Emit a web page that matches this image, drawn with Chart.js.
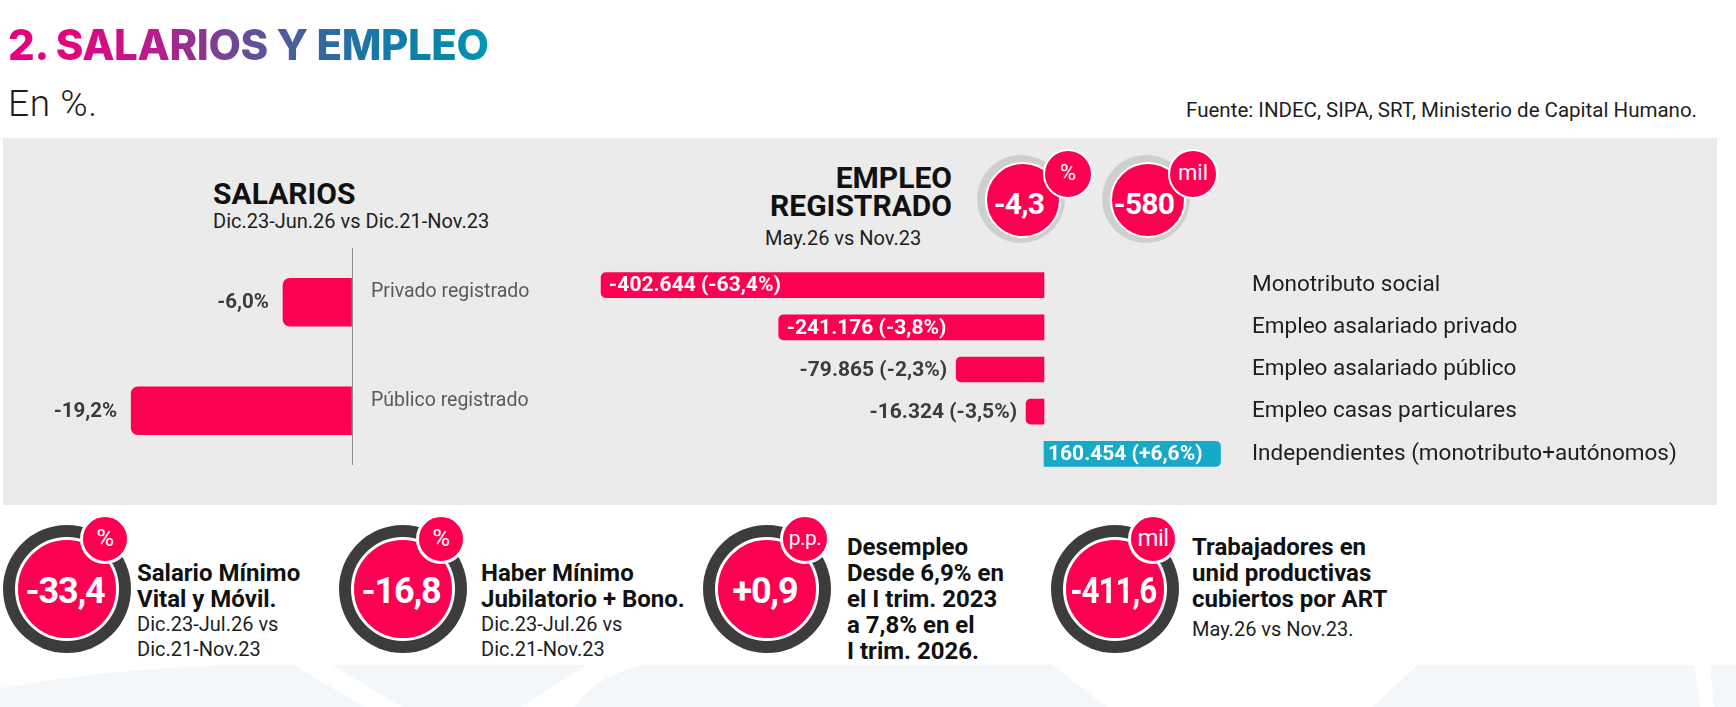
<!DOCTYPE html>
<html lang="es">
<head>
<meta charset="utf-8">
<title>2. Salarios y empleo</title>
<script src="https://cdn.jsdelivr.net/npm/chart.js@4.4.1/dist/chart.umd.min.js"></script>
<style>
  html, body { margin: 0; padding: 0; background: #fff; }
  body { position: relative; width: 1736px; height: 707px; overflow: hidden; font-family: Roboto, "Noto Sans", sans-serif; color: #1c1c1c; }
  .abs { position: absolute; }
  #titulo { left: 8px; top: 24px; font: 800 42px/1 Inter, Roboto, sans-serif; letter-spacing: -0.4px; white-space: nowrap;
    background: linear-gradient(90deg, #e8007e 0%, #e0067f 14%, #c2178a 28%, #8e358e 40%, #6a4b95 48%, #4d5e9c 58%, #32699f 66%, #1a78a6 76%, #0a82a8 88%, #0096b5 100%);
    -webkit-background-clip: text; background-clip: text; color: transparent; }
  #unidad { left: 8px; top: 85px; font: 300 37px/1 Roboto, sans-serif; letter-spacing: 0.6px; color: #1e1e1e; }
  #fuente { right: 39px; top: 100px; font: 400 20.5px/1 Roboto, sans-serif; color: #1e1e1e; white-space: nowrap; }
  #panel { left: 3px; top: 138px; width: 1714px; height: 367px; background: #ebebeb; }
  .tit-graf { font: 700 30px/28px Roboto, sans-serif; color: #111; white-space: nowrap; }
  .sub-graf { font: 400 20px/1 Roboto, sans-serif; color: #1e1e1e; white-space: nowrap; }

  /* badges del empleo registrado */
  .total { width: 88px; height: 88px; border-radius: 50%; background: #cfcfcf; }
  .total .disco { position: absolute; left: 8px; top: 7px; width: 72px; height: 72px; border-radius: 50%; background: #fe0052; border: 2px solid #fff;
    color: #fff; font: 700 30px/72px Roboto, sans-serif; text-align: center; letter-spacing: -0.8px; }
  .total .disco span { position: relative; left: -4px; top: 4px; }
  .total .chico { position: absolute; left: 66px; top: -6px; width: 46px; height: 46px; border-radius: 50%; background: #fe0052; border: 2px solid #fff;
    color: #fff; font: 400 22px/44px Roboto, sans-serif; text-align: center; }

  /* indicadores inferiores */
  .indic { width: 128px; height: 128px; border-radius: 50%; background: #3c3c3c; }
  .indic .disco { position: absolute; left: 12px; top: 12px; width: 98px; height: 98px; border-radius: 50%; background: #fe0052; border: 3px solid #fff;
    color: #fff; font: 700 36px/98px Roboto, sans-serif; text-align: center; letter-spacing: -1.2px; }
  .indic .disco span { display: inline-block; position: relative; left: -2px; top: 2px; transform-origin: 50% 50%; }
  .indic .chico { position: absolute; left: 77px; top: -11px; width: 44px; height: 44px; border-radius: 50%; background: #fe0052; border: 3px solid #fff;
    color: #fff; font: 400 24px/42px Roboto, sans-serif; text-align: center; letter-spacing: -0.5px; }
  .indic .chico.pp { font-size: 21px; }
  .texto-ind { white-space: nowrap; }
  .texto-ind b { display: block; font: 700 24px/26px Roboto, sans-serif; color: #111; }
  .texto-ind i { display: block; font: 400 20px/25px Roboto, sans-serif; font-style: normal; color: #1e1e1e; }
</style>
</head>
<body>

<svg class="abs" style="left:0;top:0" width="1736" height="707">
  <g fill="#f3f7fa">
    <path d="M0,707 L0,688 Q140,663 293,665 L365,707 Z"/>
    <path d="M332,665 L587,665 L520,707 L402,707 Z"/>
    <path d="M640,665 L1052,665 L1107,707 L575,707 Q590,680 640,665 Z"/>
    <path d="M1417,665 L1694,665 L1700,707 L1373,707 Z"/>
    <path d="M1710,665 L1736,665 L1736,707 L1714,707 Z"/>
  </g>
</svg>

<div id="titulo" class="abs">2. SALARIOS Y EMPLEO</div>
<div id="unidad" class="abs">En %.</div>
<div id="fuente" class="abs">Fuente: INDEC, SIPA, SRT, Ministerio de Capital Humano.</div>

<div id="panel" class="abs"></div>

<div class="abs tit-graf" style="left:213px;top:180px">SALARIOS</div>
<div class="abs sub-graf" style="left:213px;top:211px">Dic.23-Jun.26 vs Dic.21-Nov.23</div>

<div class="abs tit-graf" style="right:784px;top:164px;text-align:right">EMPLEO<br>REGISTRADO</div>
<div class="abs sub-graf" style="left:765px;top:228px">May.26 vs Nov.23</div>

<div id="totales"></div>

<canvas id="grafSalarios" class="abs" width="520" height="217" style="left:30px;top:248px;width:520px;height:217px"></canvas>
<canvas id="grafEmpleo" class="abs" width="1170" height="211" style="left:540px;top:264px;width:1170px;height:211px"></canvas>

<div id="indicadores"></div>

<div class="abs texto-ind" style="left:137px;top:560px"><b>Salario Mínimo</b><b>Vital y Móvil.</b><i>Dic.23-Jul.26 vs</i><i>Dic.21-Nov.23</i></div>
<div class="abs texto-ind" style="left:481px;top:560px"><b>Haber Mínimo</b><b>Jubilatorio + Bono.</b><i>Dic.23-Jul.26 vs</i><i>Dic.21-Nov.23</i></div>
<div class="abs texto-ind" style="left:847px;top:534px"><b>Desempleo</b><b>Desde 6,9% en</b><b>el I trim. 2023</b><b>a 7,8% en el</b><b>I trim. 2026.</b></div>
<div class="abs texto-ind" style="left:1192px;top:534px"><b>Trabajadores en</b><b>unid productivas</b><b>cubiertos por ART</b><i style="margin-top:5px">May.26 vs Nov.23.</i></div>

<script>
// Colores
const ROSA = '#fe0052';
const CELESTE = '#17a9c6';
const GRIS_TEXTO = '#3b3b3b';

// Salarios: variación real (%)
const salariosCategorias = ['Privado registrado', 'Público registrado'];
const salariosVariacion = [-6.0, -19.2];

// Empleo registrado: variación de puestos y en %
const empleoCategorias = ['Monotributo social', 'Empleo asalariado privado', 'Empleo asalariado público', 'Empleo casas particulares', 'Independientes (monotributo+autónomos)'];
const empleoPuestos = [-402644, -241176, -79865, -16324, 160454];
const empleoPorcentaje = [-63.4, -3.8, -2.3, -3.5, 6.6];

// Totales de empleo registrado
const totalesValores = ['-4,3', '-580'];
const totalesUnidades = ['%', 'mil'];

// Indicadores de abajo
const indicadoresValores = ['-33,4', '-16,8', '+0,9', '-411,6'];
const indicadoresUnidades = ['%', '%', 'p.p.', 'mil'];

Chart.defaults.font.family = 'Roboto';

function fmtPct(v) {
    const signo = v > 0 ? '+' : (v < 0 ? '-' : '');
    return signo + Math.abs(v).toFixed(1).replace('.', ',') + '%';
}

function fmtMiles(v) {
    const s = String(Math.abs(v)).replace(/\B(?=(\d{3})+(?!\d))/g, '.');
    return (v < 0 ? '-' : '') + s;
}

// badges: se ubican por su esquina, el contenido sale de los arrays
const posTotales = [[977, 155], [1102, 155]];
const totalesDiv = document.getElementById('totales');
totalesValores.forEach((v, i) => {
    const el = document.createElement('div');
    el.className = 'abs total';
    el.style.left = posTotales[i][0] + 'px';
    el.style.top = posTotales[i][1] + 'px';
    el.innerHTML = '<div class="disco"><span>' + v + '</span></div><div class="chico">' + totalesUnidades[i] + '</div>';
    totalesDiv.appendChild(el);
});

const posIndicadores = [3, 339, 703, 1051];
const ANCHO_CIFRA = 86; // el numero ocupa casi todo el disco
const indicadoresDiv = document.getElementById('indicadores');
indicadoresValores.forEach((v, i) => {
    const el = document.createElement('div');
    el.className = 'abs indic';
    el.style.left = posIndicadores[i] + 'px';
    el.style.top = '525px';
    const extra = indicadoresUnidades[i] === 'p.p.' ? ' pp' : '';
    el.innerHTML = '<div class="disco"><span>' + v + '</span></div><div class="chico' + extra + '">' + indicadoresUnidades[i] + '</div>';
    indicadoresDiv.appendChild(el);
    // cifras largas se angostan como en la tipografia condensada del original
    const span = el.querySelector('.disco span');
    const w = span.getBoundingClientRect().width;
    if (w > ANCHO_CIFRA) span.style.transform = 'scaleX(' + (ANCHO_CIFRA / w).toFixed(3) + ')';
});

// linea del cero con la grilla del eje x
function lineaCero(color) {
    return {
        display: true,
        drawTicks: false,
        lineWidth: 1,
        color: (c) => (c.tick && c.tick.value === 0 ? color : 'rgba(0,0,0,0)')
    };
}

// el eje de categorias no tiene que achicar el area del grafico
function ejeCategorias(ancho) {
    return (s) => {
        s.width = ancho;
        s.paddingTop = 0;
        s.paddingBottom = 0;
    };
}

const etiquetasSalarios = {
    id: 'etiquetasSalarios',
    afterDatasetsDraw(chart) {
        const ctx = chart.ctx;
        const meta = chart.getDatasetMeta(0);
        ctx.save();
        ctx.font = 'bold 20.5px Roboto';
        ctx.fillStyle = GRIS_TEXTO;
        ctx.textAlign = 'right';
        ctx.textBaseline = 'middle';
        meta.data.forEach((bar, i) => {
            ctx.fillText(fmtPct(salariosVariacion[i]), bar.x - 14, bar.y + 1);
        });
        ctx.restore();
    }
};

const etiquetasEmpleo = {
    id: 'etiquetasEmpleo',
    afterDatasetsDraw(chart) {
        const ctx = chart.ctx;
        const meta = chart.getDatasetMeta(0);
        ctx.save();
        ctx.font = 'bold 21px Roboto';
        ctx.textBaseline = 'middle';
        meta.data.forEach((bar, i) => {
            const txt = fmtMiles(empleoPuestos[i]) + ' (' + fmtPct(empleoPorcentaje[i]) + ')';
            const w = ctx.measureText(txt).width;
            const largo = Math.abs(bar.x - bar.base);
            if (empleoPuestos[i] >= 0) {
                ctx.fillStyle = '#fff';
                ctx.textAlign = 'left';
                ctx.fillText(txt, bar.base + 4, bar.y + 1);
            } else if (largo > w + 16) {
                ctx.fillStyle = '#fff';
                ctx.textAlign = 'left';
                ctx.fillText(txt, bar.x + 8, bar.y + 1);
            } else {
                ctx.fillStyle = GRIS_TEXTO;
                ctx.textAlign = 'right';
                ctx.fillText(txt, bar.x - 9, bar.y + 1);
            }
        });
        ctx.restore();
    }
};

new Chart(document.getElementById('grafSalarios'), {
    type: 'bar',
    data: {
        labels: salariosCategorias,
        datasets: [{
            data: salariosVariacion,
            backgroundColor: ROSA,
            borderRadius: 7,
            borderSkipped: 'start',
            barThickness: 48
        }]
    },
    options: {
        indexAxis: 'y',
        responsive: false,
        animation: false,
        layout: { padding: { left: 69, right: 0, top: 0, bottom: 0 } },
        plugins: { legend: { display: false }, tooltip: { enabled: false } },
        scales: {
            x: {
                min: -22,
                max: 0,
                ticks: { display: false },
                grid: lineaCero('#8c8c8c'),
                border: { display: false },
                afterFit: (s) => { s.height = 0; }
            },
            y: {
                position: 'right',
                grid: { display: false, drawTicks: false },
                border: { display: false },
                ticks: { padding: 19, labelOffset: -10, color: '#5a5a5a', font: { size: 19.5 } },
                afterFit: ejeCategorias(198)
            }
        }
    },
    plugins: [etiquetasSalarios]
});

new Chart(document.getElementById('grafEmpleo'), {
    type: 'bar',
    data: {
        labels: empleoCategorias,
        datasets: [{
            data: empleoPuestos,
            backgroundColor: empleoPuestos.map(v => (v >= 0 ? CELESTE : ROSA)),
            borderRadius: 5,
            borderSkipped: 'start',
            barThickness: 25
        }]
    },
    options: {
        indexAxis: 'y',
        responsive: false,
        animation: false,
        layout: { padding: { left: 9, right: 0, top: 0, bottom: 0 } },
        plugins: { legend: { display: false }, tooltip: { enabled: false } },
        scales: {
            x: {
                min: -450000,
                max: 170000,
                ticks: { display: false, stepSize: 50000 },
                grid: lineaCero('#8c8c8c'),
                border: { display: false },
                afterFit: (s) => { s.height = 0; }
            },
            y: {
                position: 'right',
                grid: { display: false, drawTicks: false },
                border: { display: false },
                ticks: { padding: 21, color: '#1e1e1e', font: { size: 22.5 } },
                afterFit: ejeCategorias(479)
            }
        }
    },
    plugins: [etiquetasEmpleo]
});
</script>
</body>
</html>
